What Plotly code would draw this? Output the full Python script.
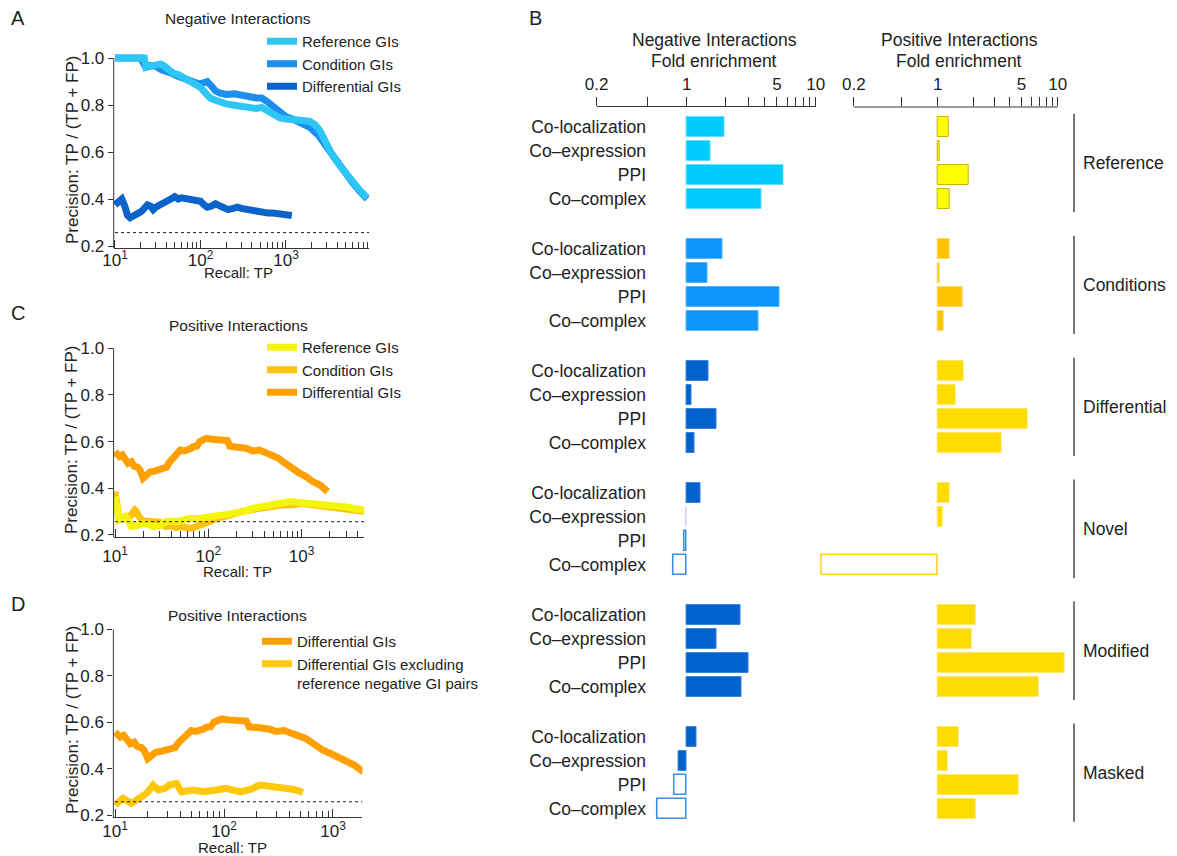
import math
import plotly.graph_objects as go

W, H = 1177, 856
FONT = "Arial, Liberation Sans, Helvetica, sans-serif"
INK = "#222222"

# ---------------- Panel A: negative interactions precision/recall ----------------
a_ref_tp = [10, 13, 17, 22, 23, 26, 30, 34, 38, 42, 48, 55, 62, 70, 80, 90, 100, 115, 130, 150, 170, 200,
            240, 300, 380, 450, 520, 600, 700, 850, 1000, 1200, 1500, 1900, 2200, 2500, 3000, 3500, 4200,
            5100, 6000, 7200, 8900]
a_ref_prec = [1.0, 1.0, 1.0, 1.0, 0.96, 0.965, 0.97, 0.975, 0.965, 0.95, 0.935, 0.93, 0.92, 0.905, 0.895,
              0.885, 0.875, 0.85, 0.83, 0.82, 0.81, 0.805, 0.80, 0.795, 0.79, 0.785, 0.79, 0.775, 0.76, 0.745,
              0.74, 0.74, 0.735, 0.73, 0.715, 0.69, 0.63, 0.585, 0.545, 0.505, 0.475, 0.44, 0.405]
a_cond_tp = [10, 20, 22, 26, 30, 35, 40, 46, 52, 60, 70, 80, 95, 110, 120, 135, 150, 170, 200, 250, 300,
             380, 450, 520, 600, 700, 850, 1000, 1200, 1500, 1900, 2400, 3000, 3500, 4200, 5100, 6000, 7200, 8900]
a_cond_prec = [1.0, 1.0, 0.97, 0.97, 0.965, 0.95, 0.945, 0.935, 0.925, 0.915, 0.905, 0.9, 0.89, 0.895, 0.90,
               0.88, 0.86, 0.85, 0.845, 0.848, 0.84, 0.835, 0.83, 0.83, 0.815, 0.795, 0.77, 0.75, 0.74, 0.725,
               0.705, 0.67, 0.62, 0.58, 0.545, 0.505, 0.47, 0.435, 0.40]
a_diff_tp = [10, 11, 12, 13, 14, 15, 16, 18, 20, 22, 24, 26, 28, 30, 33, 36, 40, 45, 50, 55, 60, 70, 80, 90,
             100, 110, 120, 135, 150, 170, 190, 210, 240, 270, 300, 350, 400, 450, 500, 560, 620, 700, 800,
             900, 1000, 1170]
a_diff_prec = [0.375, 0.385, 0.40, 0.37, 0.33, 0.32, 0.325, 0.34, 0.345, 0.36, 0.375, 0.37, 0.355, 0.365,
               0.375, 0.385, 0.39, 0.40, 0.41, 0.40, 0.405, 0.40, 0.40, 0.395, 0.39, 0.375, 0.365, 0.37, 0.38,
               0.37, 0.36, 0.355, 0.36, 0.365, 0.36, 0.355, 0.35, 0.35, 0.345, 0.345, 0.34, 0.34, 0.338,
               0.335, 0.333, 0.33]
a_baseline = 0.257

# ---------------- Panel C / D: positive interactions ----------------
c_ref_tp = [10, 10.5, 11, 12, 13, 14, 15, 17, 20, 23, 26, 30, 35, 40, 46, 55, 63, 80, 95, 110, 140, 186,
            240, 300, 380, 500, 600, 750, 900, 1100, 1400, 2200, 3000, 5000]
c_ref_prec = [0.364, 0.30, 0.264, 0.27, 0.279, 0.26, 0.236, 0.24, 0.25, 0.245, 0.236, 0.24, 0.257, 0.26,
              0.257, 0.265, 0.271, 0.271, 0.272, 0.279, 0.285, 0.293, 0.30, 0.314, 0.32, 0.33, 0.336, 0.343,
              0.34, 0.336, 0.335, 0.329, 0.32, 0.304]
c_cond_tp = [10, 10.4, 11, 12, 13, 14.5, 16.3, 17, 18, 20, 22, 26, 30, 35, 40, 45, 50, 55, 63, 70, 81, 95,
             110, 123, 150, 186, 230, 300, 427, 550, 630, 800, 1000, 1300, 2190, 3000, 5000]
c_cond_prec = [0.386, 0.307, 0.279, 0.27, 0.279, 0.28, 0.307, 0.30, 0.279, 0.26, 0.257, 0.257, 0.255, 0.236,
               0.24, 0.232, 0.236, 0.23, 0.229, 0.232, 0.243, 0.25, 0.26, 0.271, 0.28, 0.293, 0.30, 0.31,
               0.321, 0.326, 0.329, 0.33, 0.336, 0.33, 0.321, 0.315, 0.30]
c_diff_tp = [10, 11.2, 12, 13, 13.8, 15, 16, 17.5, 18.5, 20, 21, 23.7, 27, 30, 33, 35.5, 38, 42, 47, 50, 55,
             60, 65, 69, 75, 81, 90, 95, 110, 133, 150, 160, 170, 190, 220, 257, 300, 355, 420, 500, 560, 630,
             720, 810, 950, 1120, 1300, 1580, 1900]
c_diff_prec = [0.557, 0.536, 0.543, 0.52, 0.507, 0.514, 0.495, 0.49, 0.479, 0.443, 0.45, 0.47, 0.475, 0.479,
               0.48, 0.49, 0.51, 0.53, 0.55, 0.564, 0.56, 0.564, 0.57, 0.579, 0.58, 0.60, 0.605, 0.614, 0.61,
               0.607, 0.60, 0.605, 0.58, 0.575, 0.575, 0.571, 0.56, 0.564, 0.55, 0.543, 0.53, 0.514, 0.495,
               0.479, 0.465, 0.45, 0.43, 0.414, 0.386]
d_excl_tp = [10, 11.9, 14.1, 17, 19.5, 22.4, 25, 28.8, 31.6, 36.7, 40.7, 52.5, 64.6, 85, 105, 141, 175, 214,
             282, 371, 440, 530]
d_excl_prec = [0.243, 0.272, 0.25, 0.272, 0.293, 0.329, 0.308, 0.315, 0.329, 0.336, 0.30, 0.308, 0.30, 0.308,
               0.315, 0.30, 0.31, 0.329, 0.322, 0.315, 0.31, 0.298]
pos_baseline = 0.257

# ---------------- Panel B: fold enrichment ----------------
groups = ["Reference", "Conditions", "Differential", "Novel", "Modified", "Masked"]
categories = ["Co-localization", "Co\u2013expression", "PPI", "Co\u2013complex"]
neg_reference = [1.96, 1.53, 5.68, 3.81]
neg_conditions = [1.88, 1.45, 5.26, 3.63]
neg_differential = [1.48, 1.09, 1.70, 1.15]
neg_novel = [1.27, 0.995, 0.955, 0.787]
neg_modified = [2.62, 1.71, 3.02, 2.67]
neg_masked = [1.195, 0.867, 0.807, 0.598]
pos_reference = [1.235, 1.03, 1.80, 1.27]
pos_conditions = [1.25, 1.03, 1.63, 1.13]
pos_differential = [1.66, 1.40, 5.62, 3.39]
pos_novel = [1.26, 1.11, None, 0.107]
pos_modified = [2.09, 1.93, 11.5, 6.99]
pos_masked = [1.51, 1.21, 4.73, 2.09]
# filled = significant; hollow = not significant
neg_filled = [[1, 1, 1, 1], [1, 1, 1, 1], [1, 1, 1, 1], [1, 0, 0, 0], [1, 1, 1, 1], [1, 1, 0, 0]]
pos_filled = [[1, 1, 1, 1], [1, 1, 1, 1], [1, 1, 1, 1], [1, 1, 1, 0], [1, 1, 1, 1], [1, 1, 1, 1]]
neg_values = [neg_reference, neg_conditions, neg_differential, neg_novel, neg_modified, neg_masked]
pos_values = [pos_reference, pos_conditions, pos_differential, pos_novel, pos_modified, pos_masked]

neg_group_colors = ["#00CCFF", "#0C96FA", "#0062CC", "#0062CC", "#0062CC", "#0062CC"]
neg_group_lines = ["#66DDFF", "#55B6FF", "#3A86DD", "#3A86DD", "#3A86DD", "#3A86DD"]
pos_group_colors = ["#FFFF00", "#FFC400", "#FFDC00", "#FFDC00", "#FFDC00", "#FFDC00"]
pos_group_lines = ["#C8B400", "#FFD866", "#FFE766", "#FFE766", "#FFE766", "#FFE766"]

# fold-enrichment axis ticks
fold_major = [0.2, 1, 5, 10]
fold_major_text = ["0.2", "1", "5", "10"]
fold_minor = [0.5, 2, 3, 4, 6, 7, 8, 9]

# ---------------- helpers ----------------
def px(x):
    return x / W

def py(y):
    return 1 - y / H

def xdom(x10, dec, lo, hi):
    return [px(x10 + (lo - 1) * dec), px(x10 + (hi - 1) * dec)]

def ydom(y02, k, lo, hi):
    return [py(y02 + (0.2 - lo) * k), py(y02 - (hi - 0.2) * k)]

fig = go.Figure()

# line panels: (axis suffix, x10 px, px/decade, xhi, y02 px, px/unit, tick-label standoff)
panels = {
    "A": ("", 115, 85.5, 3.975, 246, 235, -4),
    "C": ("2", 115, 93.3, 3.67, 535, 233.4, 3),
    "D": ("3", 115, 109, 3.27, 815, 232, -2),
}
XLO, YLO, YHI = 0.985, 0.19, 1.03
LW = 7


def add_line(sfx, x, y, name, color, legend, rank):
    fig.add_trace(go.Scatter(x=x, y=y, mode="lines", name=name, xaxis="x" + sfx, yaxis="y" + sfx,
                             line=dict(color=color, width=LW, shape="linear"), legend=legend,
                             legendrank=rank, hoverinfo="skip"))


# Panel A
add_line("", a_diff_tp, a_diff_prec, "Differential GIs", "#0A63CB", "legend", 3)
add_line("", a_cond_tp, a_cond_prec, "Condition GIs", "#1C8EEC", "legend", 2)
add_line("", a_ref_tp, a_ref_prec, "Reference GIs", "#2EC6F7", "legend", 1)
# Panel C
add_line("2", c_diff_tp, c_diff_prec, "Differential GIs", "#FFA000", "legend2", 3)
add_line("2", c_cond_tp, c_cond_prec, "Condition GIs", "#FFC20E", "legend2", 2)
add_line("2", c_ref_tp, c_ref_prec, "Reference GIs", "#F5F50A", "legend2", 1)
# Panel D
add_line("3", c_diff_tp, c_diff_prec, "Differential GIs", "#FFA000", "legend3", 1)
add_line("3", d_excl_tp, d_excl_prec, "Differential GIs excluding<br>reference negative GI pairs",
         "#FFC80A", "legend3", 2)

# dotted baselines
for key, base in (("A", a_baseline), ("C", pos_baseline), ("D", pos_baseline)):
    sfx, x10, dec, xhi, y02, k, so = panels[key]
    fig.add_trace(go.Scatter(x=[10, 10 ** xhi], y=[base, base], mode="lines", showlegend=False,
                             xaxis="x" + sfx, yaxis="y" + sfx, hoverinfo="skip",
                             line=dict(color="#222222", width=1, dash="dot")))

major = [10, 100, 1000]
minor_all = [m * 10 ** e for e in (1, 2, 3) for m in range(2, 10)]
for key, (sfx, x10, dec, xhi, y02, k, so) in panels.items():
    xa = dict(type="log", domain=xdom(x10, dec, XLO, xhi), range=[XLO, xhi], anchor="y" + sfx,
              automargin=False, showline=True, linecolor="#333333", linewidth=1, showgrid=False,
              zeroline=False, ticks="inside", ticklen=8, tickcolor="#333333", tickwidth=1, tickvals=major,
              ticktext=["10<sup>1</sup>", "10<sup>2</sup>", "10<sup>3</sup>"], ticklabelstandoff=so,
              tickfont=dict(size=17, color=INK, family=FONT),
              minor=dict(tickvals=[v for v in minor_all if v <= 10 ** xhi], ticks="inside", ticklen=6,
                         tickcolor="#333333", tickwidth=1, showgrid=False))
    ya = dict(domain=ydom(y02, k, YLO, YHI), range=[YLO, YHI], anchor="x" + sfx, showline=False,
              automargin=False, showgrid=False, zeroline=False, ticks="outside", ticklen=5,
              tickcolor="#333333", tickwidth=1,
              tickvals=[0.2, 0.4, 0.6, 0.8, 1.0], ticktext=["0.2", "0.4", "0.6", "0.8", "1.0"],
              tickfont=dict(size=17, color=INK, family=FONT))
    fig.layout["xaxis" + sfx] = xa
    fig.layout["yaxis" + sfx] = ya
    fig.add_shape(type="line", xref="x" + sfx + " domain", yref="y" + sfx, x0=0, x1=0, y0=YLO, y1=1.0,
                  line=dict(color="#333333", width=1))

# ---------------- bar panels ----------------
GROUP_STEP = 5.08
ROW0_PX, ROW_PX = 127, 24
ypos, ylabels = [], []
for g in range(len(groups)):
    for r in range(len(categories)):
        ypos.append(g * GROUP_STEP + r)
        ylabels.append(categories[r])


def bar_trace(values, filled, colors, lines, hollow_line, xa, ya):
    xs, cols, lcols, lws = [], [], [], []
    for g, vals in enumerate(values):
        for r, v in enumerate(vals):
            xs.append(None if v is None else v - 1)
            if filled[g][r]:
                cols.append(colors[g]); lcols.append(lines[g]); lws.append(1)
            else:
                cols.append("rgba(255,255,255,0)")
                lcols.append(hollow_line if abs(v - 1) > 0.01 else "#C9D6EC")
                lws.append(1.6)
    return go.Bar(y=ypos, x=xs, base=[1] * len(xs), orientation="h", width=0.83, xaxis=xa, yaxis=ya,
                  marker=dict(color=cols, line=dict(color=lcols, width=lws)), showlegend=False,
                  hoverinfo="skip")


fig.add_trace(bar_trace(neg_values, neg_filled, neg_group_colors, neg_group_lines, "#3D8FE5", "x4", "y4"))
fig.add_trace(bar_trace(pos_values, pos_filled, pos_group_colors, pos_group_lines, "#FFD21E", "x5", "y5"))

ytop_px, ybot_px = 107, 830
yrange = [(ybot_px - ROW0_PX) / ROW_PX, (ytop_px - ROW0_PX) / ROW_PX]
bar_ydom = [py(ybot_px), py(ytop_px)]

fold_axis = dict(type="log", side="top", automargin=False, ticks="outside", ticklen=9, tickcolor="#333333",
                 tickwidth=1, tickvals=fold_major, ticktext=fold_major_text,
                 minor=dict(tickvals=fold_minor, ticks="outside", ticklen=9, tickcolor="#333333",
                            tickwidth=1, showgrid=False),
                 tickfont=dict(size=17, color=INK, family=FONT), showgrid=False, zeroline=False)

# negative: 1 at 686.7 px, 129 px/decade
neg_lo, neg_hi = math.log10(0.2), 1.0
n1, ndec = 686.7, 129
fig.layout.xaxis4 = dict(anchor="y4", domain=[px(n1 + neg_lo * ndec), px(n1 + neg_hi * ndec)],
                         range=[neg_lo, neg_hi], showline=True, linecolor="#333333", linewidth=1,
                         **fold_axis)
fig.layout.yaxis4 = dict(domain=bar_ydom, range=yrange, anchor="free", position=px(646), side="left",
                         automargin=False, tickvals=ypos, ticktext=ylabels, ticks="", showline=False,
                         showgrid=False, zeroline=False, tickfont=dict(size=17.5, color=INK, family=FONT))
# positive: 1 at 937.7 px, 120 px/decade
pos_lo, pos_hi = -1.0, 1.1
p1, pdec = 937.7, 120
fig.layout.xaxis5 = dict(anchor="y5", domain=[px(p1 + pos_lo * pdec), px(p1 + pos_hi * pdec)],
                         range=[pos_lo, pos_hi], showline=False, **fold_axis)
fig.layout.yaxis5 = dict(domain=bar_ydom, range=yrange, anchor="x5", showticklabels=False, ticks="",
                         automargin=False, showline=False, showgrid=False, zeroline=False)
fig.add_shape(type="line", xref="x5", yref="y5 domain", x0=0.2, x1=10, y0=1, y1=1,
              line=dict(color="#333333", width=1))

annotations = []
# group labels and brackets
for g, name in enumerate(groups):
    c = g * GROUP_STEP + 1.5
    annotations.append(dict(x=px(1081), y=c, xref="paper", yref="y4", text=name, showarrow=False,
                            xanchor="left", yanchor="middle", font=dict(size=17.5, color=INK, family=FONT)))
    fig.add_shape(type="line", xref="paper", yref="y4", x0=px(1074), x1=px(1074),
                  y0=g * GROUP_STEP - 0.55, y1=g * GROUP_STEP + 3.55, line=dict(color="#555555", width=1.6))


def text(x, y, s, size=15, xanchor="center", angle=0):
    annotations.append(dict(x=px(x), y=py(y), xref="paper", yref="paper", text=s, showarrow=False,
                            xanchor=xanchor, yanchor="middle", textangle=angle,
                            font=dict(size=size, color=INK, family=FONT)))


text(714, 40, "Negative Interactions", 17.5)
text(714, 61, "Fold enrichment", 17.5)
text(959, 40, "Positive Interactions", 17.5)
text(959, 61, "Fold enrichment", 17.5)
# panel letters
text(18, 18, "A", 20)
text(535, 18, "B", 20)
text(18, 313, "C", 20)
text(18, 604, "D", 20)
# panel titles
text(238, 18, "Negative Interactions", 15.5)
text(238, 325, "Positive Interactions", 15.5)
text(237, 615, "Positive Interactions", 15.5)
# axis titles
text(238, 272, "Recall: TP", 15)
text(237, 571, "Recall: TP", 15)
text(232, 847, "Recall: TP", 15)
text(72, 150, "Precision: TP / (TP + FP)", 17, angle=-90)
text(72, 440, "Precision: TP / (TP + FP)", 17, angle=-90)
text(72, 720, "Precision: TP / (TP + FP)", 17, angle=-90)

legend_style = dict(font=dict(size=15, color=INK, family=FONT), bgcolor="rgba(0,0,0,0)",
                    xanchor="left", yanchor="top", tracegroupgap=0, itemwidth=30, valign="top",
                    borderwidth=0)

fig.update_layout(
    template="none",
    width=W, height=H, autosize=False, margin=dict(l=0, r=0, t=0, b=0, pad=0),
    paper_bgcolor="white", plot_bgcolor="rgba(0,0,0,0)", font=dict(family=FONT, color=INK),
    showlegend=True, bargap=0, barmode="overlay",
    legend=dict(x=px(262), y=py(25), **legend_style),
    legend2=dict(x=px(262), y=py(331), **legend_style),
    legend3=dict(x=px(257), y=py(625), **legend_style),
    annotations=annotations,
)

fig.write_html("out.html", config={"displayModeBar": False},
               post_script="document.body.style.margin='0';document.body.style.overflow='hidden';")
